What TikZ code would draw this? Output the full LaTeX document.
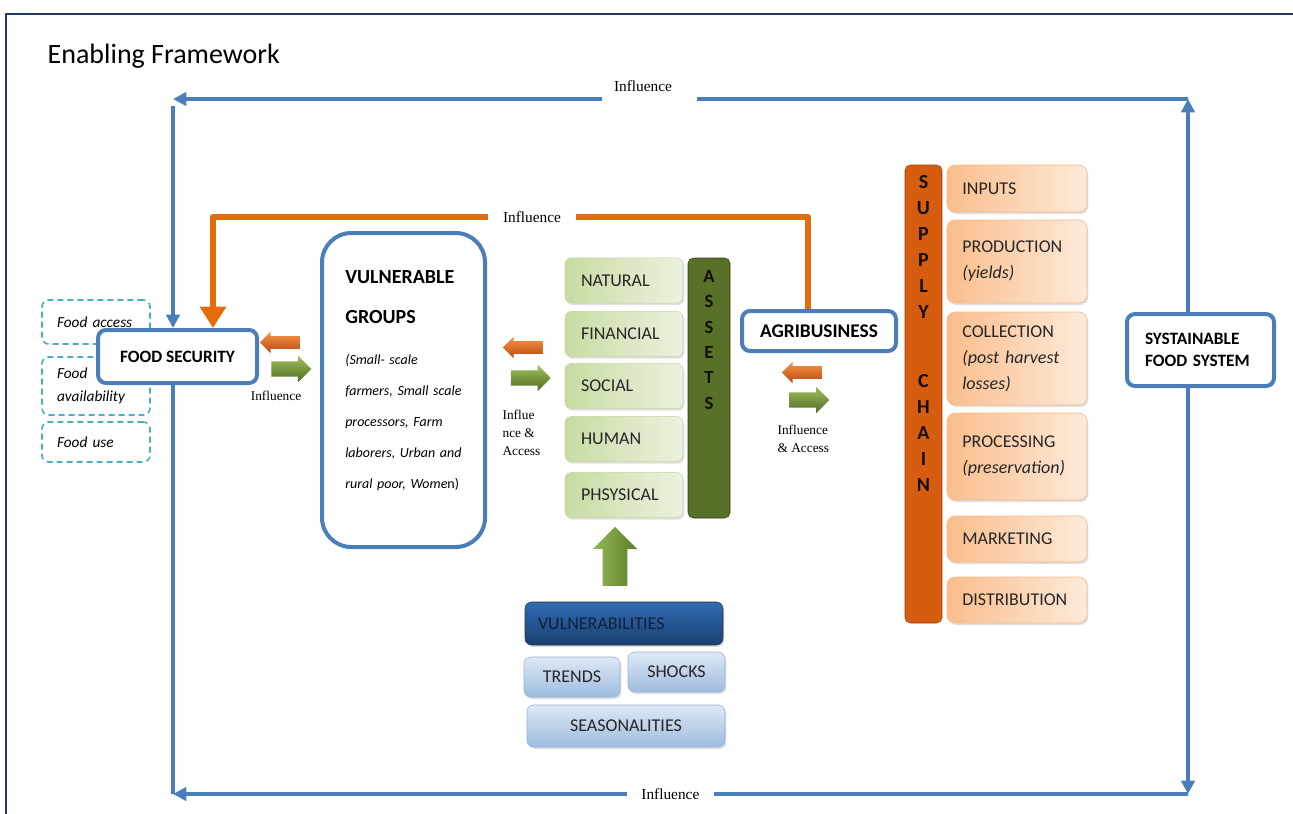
\documentclass[tikz,border=0pt]{standalone}
\usepackage{fontspec}
\setmainfont{Carlito}
\newfontfamily\cambr{Liberation Serif}
\usetikzlibrary{arrows.meta,shapes.arrows,shadows}

\definecolor{cnavy}{RGB}{31,56,100}
\definecolor{cblue}{RGB}{74,126,187}
\definecolor{ccyan}{RGB}{75,172,198}
\definecolor{corange}{RGB}{228,108,10}
\definecolor{ctext}{RGB}{38,38,38}

\tikzset{
  ring/.style={draw=cblue, line width=3pt},
  tipb/.style={-{Triangle[length=10pt,width=10pt]}},
  bluebox/.style={draw=cblue, line width=3pt, rounded corners=6pt, fill=white, font=\bfseries\fontsize{13}{16.5}\selectfont},
  dashbox/.style={draw=ccyan, line width=1.2pt, dash pattern=on 4.5pt off 3pt, rounded corners=5pt, inner xsep=11.25pt, text width=58.5pt, align=left, font=\itshape\fontsize{11.5}{17.25}\selectfont},
  lbl/.style={font=\cambr\fontsize{10}{13.5}\selectfont, inner sep=1pt, text=black},
  blk/.style={single arrow, inner sep=4.5pt, single arrow head extend=3.4pt, single arrow head indent=0pt, minimum height=30pt},
  orblk/.style={blk, shape border rotate=180, top color={rgb,255:red,248;green,150;blue,70}, bottom color={rgb,255:red,185;green,72;blue,18}},
  grblk/.style={blk, inner sep=5.6pt, single arrow head extend=4.1pt, top color={rgb,255:red,160;green,192;blue,92}, bottom color={rgb,255:red,78;green,108;blue,34}},
  assetbox/.style={draw={rgb,255:red,195;green,214;blue,155}, rounded corners=5pt, minimum height=34pt, inner xsep=12pt, text width=64.5pt, align=left, text=ctext,
    left color={rgb,255:red,200;green,219;blue,162}, right color={rgb,255:red,236;green,242;blue,224}, drop shadow={opacity=.25, shadow xshift=1pt, shadow yshift=-1.5pt}},
  supbox/.style={draw={rgb,255:red,247;green,186;blue,140}, rounded corners=6pt, minimum width=105pt, inner xsep=11.5pt, text width=82pt, align=left, text=ctext,
    font=\fontsize{13.5}{19.5}\selectfont,
    left color={rgb,255:red,250;green,190;blue,140}, right color={rgb,255:red,253;green,234;blue,218}, drop shadow={opacity=.25, shadow xshift=1pt, shadow yshift=-1.5pt}},
  vulbox/.style={draw={rgb,255:red,149;green,179;blue,215}, rounded corners=5pt, minimum height=30pt, text=ctext,
    top color={rgb,255:red,222;green,232;blue,244}, bottom color={rgb,255:red,158;green,188;blue,223}, drop shadow={opacity=.25, shadow xshift=1pt, shadow yshift=-1.5pt}},
  barletters/.style={anchor=north, inner sep=0pt, text width=20pt, align=center, text={rgb,255:red,20;green,16;blue,12}}
}

\begin{document}
\begin{tikzpicture}[x=0.75pt, y=-0.75pt, line join=round, font=\fontsize{13.5}{16}\selectfont]
\useasboundingbox (0,0) rectangle (1293,814);
\path (173,99) coordinate (tl) (1188,99) coordinate (tr) (1188,794) coordinate (br) (173,794) coordinate (bl) (532,217) coordinate (otop);
\draw[cnavy, line width=2pt] (6,814) -- (6,14) -- (1293,14);
\node[anchor=west, font=\fontsize{21}{24}\selectfont] (title) at (43,56) {Enabling Framework};

% food security and its dimensions
\node[dashbox, minimum height=33pt] (facc) at (96,322) {Food access};
\node[dashbox, minimum height=43.5pt] (favl) at (96,386) {Food\\availability};
\node[dashbox, minimum height=30pt] (fuse) at (96,442) {Food use};
\node[bluebox, minimum width=119.25pt, minimum height=39.75pt] (fs) at (177.5,356.5) {FOOD SECURITY};

% vulnerable groups
\node[bluebox, rounded corners=22pt, minimum width=122.25pt, minimum height=235.5pt] (vg) at (403.5,390) {};
\node[anchor=north west, inner sep=0pt, text width=130pt, align=left, font=\itshape\fontsize{10.5}{23.25}\selectfont] (vgtxt) at (345,270)
  {{\upshape\bfseries\fontsize{15}{23.25}\selectfont VULNERABLE}\\[6.75pt]
   {\upshape\bfseries\fontsize{15}{23.25}\selectfont GROUPS}\\[7.5pt]
   (Small- scale\\farmers, Small scale\\processors, Farm\\laborers, Urban and\\rural poor, Wome{\upshape n)}};

% influence arrows
\node[orblk] (oa1) at (283,342.5) {};
\node[grblk] (ga1) at (287.5,369) {};
\node[lbl] (il1) at (276,396) {Influence};
\node[orblk] (oa2) at (526,347.5) {};
\node[grblk] (ga2) at (527,378) {};
\node[lbl, anchor=west, align=left] (il2) at (501,433) {Influe\\nce \&\\Access};
\node[orblk] (oa3) at (805,372.5) {};
\node[grblk] (ga3) at (805.5,400) {};
\node[lbl, anchor=west, align=left] (il3) at (776,439) {Influence\\\& Access};

% assets
\foreach \nm/\y/\txt in {nat/280.5/NATURAL, fin/334/FINANCIAL, soc/386/SOCIAL, hum/439/HUMAN, phy/495/PHSYSICAL}
  \node[assetbox] (\nm) at (624,\y) {\txt};
\node[draw={rgb,255:red,50;green,62;blue,25}, rounded corners=4pt, minimum width=31.5pt, minimum height=195pt,
  left color={rgb,255:red,88;green,112;blue,40}, middle color={rgb,255:red,122;green,152;blue,62}, right color={rgb,255:red,88;green,112;blue,40}] (assets) at (709,388) {};
\node[barletters, font=\bfseries\fontsize{14}{19}\selectfont] (assetsl) at (709,270) {A\\S\\S\\E\\T\\S};

% vulnerabilities
\node[single arrow, shape border rotate=90, inner sep=9pt, single arrow head extend=7.5pt, single arrow head indent=0pt, minimum height=44.25pt,
  left color={rgb,255:red,150;green,185;blue,85}, right color={rgb,255:red,90;green,125;blue,40}] (ua) at (615,562.5) {};
\node[draw=black!80, rounded corners=5pt, minimum width=148.5pt, minimum height=32.25pt, inner xsep=9.75pt, text width=129pt, align=left,
  text={rgb,255:red,16;green,32;blue,58}, top color={rgb,255:red,50;green,108;blue,178}, bottom color={rgb,255:red,26;green,62;blue,112},
  drop shadow={opacity=.25, shadow xshift=1pt, shadow yshift=-1.5pt}] (vul) at (624,623.5) {VULNERABILITIES};
\node[vulbox, minimum width=72pt] (trd) at (572,677) {TRENDS};
\node[vulbox, minimum width=72.75pt] (shk) at (676.5,672) {SHOCKS};
\node[vulbox, minimum width=148.5pt, minimum height=31.5pt] (sea) at (626,726) {SEASONALITIES};

% agribusiness and supply chain
\node[bluebox, font=\bfseries\fontsize{14.5}{16}\selectfont, minimum width=115.5pt, minimum height=30pt] (agri) at (819,331) {AGRIBUSINESS};
\node[draw={rgb,255:red,150;green,60;blue,10}, rounded corners=4pt, minimum width=27.75pt, minimum height=343.5pt,
  left color={rgb,255:red,214;green,92;blue,16}, middle color={rgb,255:red,240;green,132;blue,46}, right color={rgb,255:red,214;green,92;blue,16}] (supply) at (923.5,394) {};
\node[barletters, font=\bfseries\fontsize{15}{19.5}\selectfont] (supplyl) at (923.5,175) {S\\U\\P\\P\\L\\Y\\[32pt]C\\H\\A\\I\\N};
\foreach \nm/\y/\h/\txt in {inp/188.5/35.25/INPUTS, prod/261.5/62.25/{PRODUCTION\\\textit{(yields)}},
    coll/358.5/69.75/{COLLECTION\\\textit{(post harvest}\\\textit{losses)}}, proc/456.5/65.25/{PROCESSING\\\textit{(preservation)}},
    mkt/539/34.5/MARKETING, dist/600/34.5/DISTRIBUTION}
  \node[supbox, minimum height=\h pt] (\nm) at (1017,\y) {\txt};

\node[bluebox, minimum width=110.25pt, minimum height=54pt, inner xsep=13.5pt, text width=83.25pt, align=left] (sfs) at (1200.5,350) {SYSTAINABLE\\FOOD SYSTEM};

% influence loops
\draw[corange, line width=5pt, -{Triangle[length=16pt,width=19pt]}] ([xshift=-8.25pt]agri.north) |- (otop)
  node[lbl, fill=white, inner xsep=11pt, font=\cambr\fontsize{11.5}{14}\selectfont] (imid) {Influence} -| ([xshift=26.6pt]fs.north);
\draw[ring, tipb] (sfs.north -| tr) -- (tr);
\draw[ring, tipb] (tr) -- (tl);
\node[fill=white, inner sep=0pt, minimum width=71.25pt, minimum height=8pt] (gtop) at (649.5,99) {};
\node[lbl, font=\cambr\fontsize{11.5}{14}\selectfont] (itop) at (643,86) {Influence};
\draw[ring, tipb] ([yshift=-5pt]tl) -- (fs.north -| tl);
\draw[ring] (fs.south -| bl) -- (bl);
\draw[ring, tipb] (sfs.south -| br) -- (br);
\draw[ring, tipb] (br) -- node[lbl, fill=white, pos=.51, inner xsep=11pt, font=\cambr\fontsize{11.5}{14}\selectfont] (ibot) {Influence} (bl);
\end{tikzpicture}
\end{document}
